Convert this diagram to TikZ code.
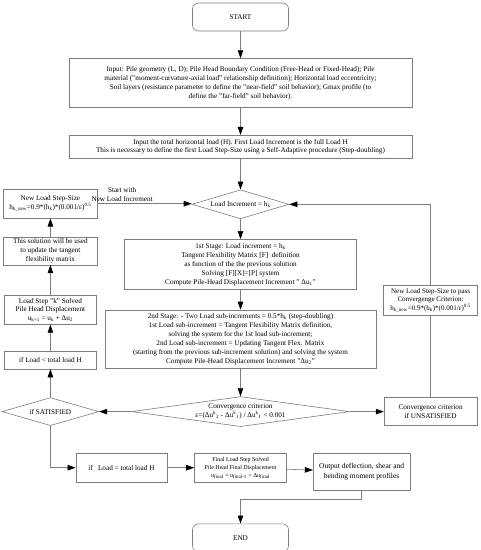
\documentclass[tikz,border=0pt]{standalone}
\usepackage{fontspec}
\setmainfont{Liberation Serif}
\usetikzlibrary{positioning,shapes.geometric,arrows.meta}
\definecolor{lgray}{RGB}{125,125,125}

\begin{document}
\begin{tikzpicture}[
        box/.style={rectangle, draw=lgray, line width=0.6pt, fill=white,
                    inner sep=1pt, font=\fontsize{7.2}{9}\selectfont, align=center},
        term/.style={box, rounded corners=6pt, minimum width=96pt, minimum height=28pt},
        dia/.style={diamond, draw=lgray, line width=0.6pt, fill=white, inner sep=0pt,
                    aspect=3, font=\fontsize{7.2}{9}\selectfont, align=center},
        arr/.style={-{Triangle[length=8pt,width=5.5pt,color=black]}, lgray, line width=0.6pt},
        ln/.style={lgray, line width=0.6pt}
      ]
  \useasboundingbox (0pt,0pt) rectangle (481pt,-550pt);
  % main column
  \node[term] (start) at (240.5pt,-17pt) {START};
  \node[box, below=27pt of start, minimum width=343pt, minimum height=49pt] (inp)
        {Input: Pile geometry (L, D); Pile Head Boundary Condition (Free-Head or Fixed-Head); Pile\\
         material ("moment-curvature-axial load" relationship definition); Horizontal load eccentricity;\\
         Soil layers (resistance parameter to define the "near-field" soil behavior); Gmax profile (to\\
         define the "far-field" soil behavior).};
  \node[box, below=27pt of inp, minimum width=343pt, minimum height=23pt,
        font=\fontsize{7.2}{8.5}\selectfont] (tot)
        {Input the total horizontal load (H). First Load Increment is the full Load H\\
         This is necessary to define the first Load Step-Size using a Self-Adaptive procedure (Step-doubling)};
  \node[dia, below=31pt of tot, minimum width=97pt, minimum height=29pt] (inc)
        {Load Increment = h\textsubscript{k}};
  \node[box, below=20pt of inc, minimum width=232pt, minimum height=50pt] (st1)
        {1st Stage: Load increment = h\textsubscript{k}\\
         Tangent Flexibility Matrix [F]~ definition\\
         as function of the the previous solution\\
         Solving [F][X]=[P] system\\
         Compute Pile-Head Displacement Increment "~Δu\textsubscript{1}"};
  \node[box, below=20pt of st1, minimum width=271pt, minimum height=58pt] (st2)
        {2nd Stage: - Two Load sub-increments = 0.5*h\textsubscript{k} (step-doubling)\\
         1st Load sub-increment = Tangent Flexibility Matrix definition,\\
         solving the system for the 1st load sub-increment;\\
         2nd Load sub-increment = Updating Tangent Flex. Matrix\\
         (starting from the previous sub-increment solution) and solving the system\\
         Compute Pile-Head Displacement Increment "Δu\textsubscript{2}"};
  \node[dia, below=28pt of st2, minimum width=218pt, minimum height=30pt, aspect=7.2] (conv)
        {Convergence criterion\\
         ε=(Δu\textsuperscript{k}\textsubscript{2} - Δu\textsuperscript{k}\textsubscript{1}) / Δu\textsuperscript{k}\textsubscript{1} < 0.001};
  % right branch
  \node[box, right=34pt of conv, minimum width=93pt, minimum height=28pt] (unsat)
        {Convergence criterion\\ if UNSATISFIED};
  \node[box, above=82pt of unsat, minimum width=94pt, minimum height=30pt,
        font=\fontsize{7}{8.5}\selectfont] (nls2)
        {New Load Step-Size to pass\\ Convergenge Criterion:\\
         h\textsubscript{k\_new}=0.9*(h\textsubscript{k})*(0.001/ε)\textsuperscript{0.5}};
  % left branch
  \node[dia, left=32pt of conv, minimum width=97pt, minimum height=28pt] (sat) {if SATISFIED};
  \node[box, above=28pt of sat, minimum width=92pt, minimum height=18pt] (lt)
        {if Load < total load H};
  \node[box, above=26pt of lt, minimum width=92pt, minimum height=29pt,
        font=\fontsize{7.2}{8.5}\selectfont] (ksol)
        {Load Step "k" Solved\\ Pile Head Displacement\\
         u\textsubscript{k+1} = u\textsubscript{k} + Δu\textsubscript{2}};
  \node[box, above=30pt of ksol, minimum width=94pt, minimum height=28pt] (sol)
        {This solution will be used\\ to update the tangent\\ flexibility matrix};
  \node[box, above=18pt of sol, minimum width=94pt, minimum height=29pt] (nls)
        {New Load Step-Size\\
         h\textsubscript{k\_new}=0.9*(h\textsubscript{k})*(0.001/ε)\textsuperscript{0.5}};
  % bottom row
  \node[box, below=26pt of conv, minimum width=92pt, minimum height=29pt,
        font=\fontsize{6}{8}\selectfont] (fin)
        {Final Load Step Solved\\ Pile Head Final Displacement\\
         u\textsubscript{final} = u\textsubscript{final-1} + Δu\textsubscript{final}};
  \node[box, left=27pt of fin, minimum width=91pt, minimum height=29pt] (eq)
        {if~~~Load = total load H};
  \node[box, right=26pt of fin.north east, anchor=north west, minimum width=97pt,
        minimum height=37pt, font=\fontsize{7.5}{10}\selectfont] (out)
        {Output deflection, shear and\\ bending moment profiles};
  \node[term, below=41pt of fin] (stop) {END};
  % connectors
  \draw[arr] (start)--(inp); \draw[arr] (inp)--(tot);
  \draw[arr] (tot)--(inc); \draw[arr] (inc)--(st1);
  \draw[arr] (st1)--(st2); \draw[arr] (st2)--(conv);
  \draw[arr] (conv)--(unsat); \draw[arr] (conv)--(sat);
  \draw[ln] (unsat)--(nls2);
  \draw[arr] (nls2.north) |- (inc.east);
  \draw[arr] (sat)--(lt); \draw[arr] (lt)--(ksol);
  \draw[arr] (ksol)--(sol); \draw[arr] (sol)--(nls);
  \draw[arr] (nls.east) -- node[above, pos=0.26, text=black, inner sep=1.5pt,
        font=\fontsize{7.2}{9}\selectfont, align=center]
        {Start with\\ New Load Increment} (nls.east -| inc.west);
  \draw[arr] (sat.south) |- (eq.west);
  \draw[arr] (eq)--(fin); \draw[arr] (fin)--(out);
  \draw[arr] (out.south) -- ++(0,-9pt) -| (stop.north);
\end{tikzpicture}
\end{document}
